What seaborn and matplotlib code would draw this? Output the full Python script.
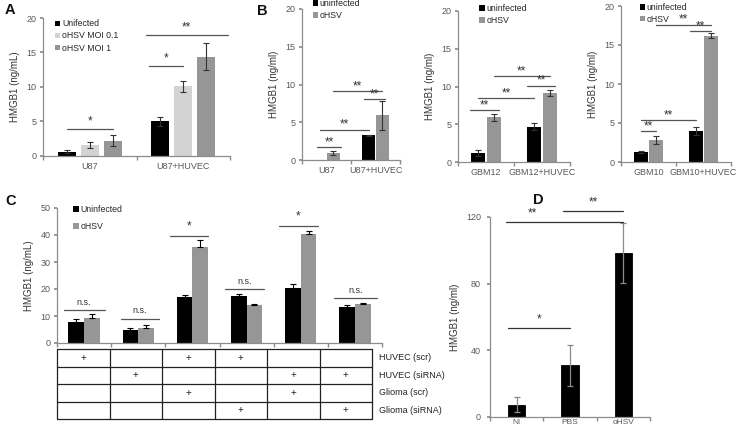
import numpy as np
import pandas as pd
import seaborn as sns
from matplotlib import pyplot as plt

W, H = 738, 428

# ---- panel A
a_groups = ["U87", "U87+HUVEC"]
a_series = ["Unifected", "oHSV MOI 0.1", "oHSV MOI 1"]
a_vals = [[0.6, 5.0], [1.6, 10.1], [2.2, 14.4]]
a_errs = [[0.2, 0.7], [0.4, 0.8], [0.8, 2.0]]
a_colors = ["#000000", "#d3d3d3", "#969696"]
# (bar from, bar to, y, text, ext left, ext right[, text position along line])
# bars flat: group*nseries+series
a_sig = [(0, 2, 3.9, "*", 0, 0), (3, 5, 17.6, "**", 0.8, 1.2), (3, 4, 13.0, "*", 0.6, 0)]

# ---- panel B
b_series = ["uninfected", "oHSV"]
b_colors = ["#000000", "#969696"]
b1_groups = ["U87", "U87+HUVEC"]
b1_vals = [[0.0, 3.25], [0.9, 5.9]]
b1_errs = [[0.0, 0.1], [0.3, 1.9]]
b1_sig = [(0, 1, 1.7, "**", 0.2, 0.6), (0, 2, 4.0, "**", 0, 0), (1, 3, 9.1, "**", 0, 0), (2, 3, 8.1, "**", 0.4, 0.2)]
b2_groups = ["GBM12", "GBM12+HUVEC"]
b2_vals = [[1.2, 4.7], [5.9, 9.2]]
b2_errs = [[0.4, 0.4], [0.5, 0.4]]
b2_sig = [(0, 1, 6.9, "**", 0.6, 0.4), (0, 2, 8.5, "**", 0, 0), (1, 3, 11.4, "**", 0, 0), (2, 3, 10.1, "**", 0.5, 0.4)]
b3_groups = ["GBM10", "GBM10+HUVEC"]
b3_vals = [[1.3, 4.0], [2.85, 16.2]]
b3_errs = [[0.1, 0.5], [0.5, 0.3]]
b3_sig = [(0, 1, 4.0, "**", 0, 0), (0, 2, 5.4, "**", 0, 0), (1, 3, 17.6, "**", 0, 0), (2, 3, 16.8, "**", 0.4, 0)]

# ---- panel C
c_groups = ["1", "2", "3", "4", "5", "6"]
c_series = ["Uninfected", "oHSV"]
c_vals = [[7.8, 4.7, 16.9, 17.3, 20.5, 13.3], [9.3, 5.6, 35.5, 14.2, 40.5, 14.4]]
c_errs = [[1.2, 0.8, 1.0, 0.9, 1.2, 0.8], [1.5, 1.2, 2.5, 0.3, 0.8, 0.3]]
c_sig = [(0, 1, 12.2, "n.s.", 0.8, 0.8), (2, 3, 9.0, "n.s.", 0.6, 0.8), (4, 5, 39.6, "*", 0.9, 0.5),
         (6, 7, 20.0, "n.s.", 0.9, 0.6), (8, 9, 43.3, "*", 0.9, 0.6), (10, 11, 16.7, "n.s.", 0.8, 0.9)]
c_rows = ["HUVEC (scr)", "HUVEC (siRNA)", "Glioma (scr)", "Glioma (siRNA)"]
c_plus = [[1, 0, 1, 1, 0, 0], [0, 1, 0, 0, 1, 1], [0, 0, 1, 0, 1, 0], [0, 0, 0, 1, 0, 1]]

# ---- panel D
d_groups = ["NI", "PBS", "oHSV"]
d_vals = [7.5, 31.0, 98.5]
d_errs = [4.5, 12.5, 18.0]
d_sig = [(0, 2, 117, "**", 0.6, 0, 0.22), (1, 2, 123.6, "**", 0.4, 0), (0, 1, 53.4, "*", 0.5, 0)]

GREY = "#595959"
SPINE = "#8c8c8c"
FONT = "Liberation Sans"

sns.set_theme(style="ticks")
plt.rcParams["font.family"] = [FONT, "DejaVu Sans"]


def px_axes(fig, left, right, top, bottom):
    return fig.add_axes([left / W, 1 - bottom / H, (right - left) / W, (bottom - top) / H])


def style_axes(ax, ylim, yticks, ylabel, labels=True):
    ax.set_ylim(*ylim)
    ax.set_yticks(yticks)
    ax.set_ylabel(ylabel, fontsize=7, color="#333333", labelpad=5)
    ax.set_xlabel("")
    for s in ["top", "right"]:
        ax.spines[s].set_visible(False)
    for s in ["left", "bottom"]:
        ax.spines[s].set_color(SPINE)
        ax.spines[s].set_linewidth(0.9)
    n = len(ax.get_xticks())
    ax.set_xlim(-0.5, n - 0.5)
    ax.set_xticks(np.arange(-0.5, n, 1.0), minor=True)
    ax.tick_params(axis="x", which="major", length=0, labelsize=6.5, labelcolor=GREY, pad=4)
    ax.tick_params(axis="x", which="minor", length=3, color=SPINE, direction="out")
    ax.tick_params(axis="y", length=2.5, color=SPINE, labelsize=6.5, labelcolor=GREY, pad=2)
    if not labels:
        ax.set_xticklabels([])


def grouped(ax, groups, series, vals, errs, colors, width, gap, one_sided=False, ecolor="#333333"):
    rows = [(g, s, vals[j][i]) for j, s in enumerate(series) for i, g in enumerate(groups)]
    df = pd.DataFrame(rows, columns=["group", "series", "value"])
    sns.barplot(data=df, x="group", y="value", hue="series", order=groups, hue_order=series,
                palette=colors, width=width, gap=gap, errorbar=None, saturation=1,
                linewidth=0, ax=ax)
    bars = {}
    for j, cont in enumerate(list(ax.containers)):
        for i, bar in enumerate(cont):
            x = bar.get_x() + bar.get_width() / 2
            bars[i * len(series) + j] = (x, bar.get_width())
            e = errs[j][i]
            if e > 0:
                yerr = [[0], [e]] if one_sided else [[e], [e]]
                ax.errorbar(x, vals[j][i], yerr=yerr, fmt="none", ecolor=ecolor,
                            elinewidth=0.8, capsize=2, capthick=0.8)
    return bars


def brackets(ax, bars, sig, fs=6.5, color="#555555", dy=0.0):
    for item in sig:
        b1, b2, y, text, el, er = item[:6]
        frac = item[6] if len(item) > 6 else 0.5
        x1 = bars[b1][0] - el * bars[b1][1]
        x2 = bars[b2][0] + er * bars[b2][1]
        ax.plot([x1, x2], [y, y], color=color, lw=0.9, clip_on=False)
        size = 8.5 if "*" in text else fs
        ax.text(x1 + frac * (x2 - x1), y + dy, text, ha="center", va="bottom", fontsize=size,
                color="#333333", clip_on=False)


def legend(ax, x, y, spacing=0.25, fs=6.3):
    ax.legend(loc="upper left", bbox_to_anchor=(x, y), frameon=False, fontsize=fs,
              handlelength=0.6, handleheight=0.6, handletextpad=0.2,
              labelspacing=spacing, borderaxespad=0, borderpad=0)


fig = plt.figure(figsize=(W / 100, H / 100), dpi=100)

# A
ax = px_axes(fig, 43, 230, 18, 156)
bars = grouped(ax, a_groups, a_series, a_vals, a_errs, a_colors, 0.74, 0.22)
style_axes(ax, (0, 20), [0, 5, 10, 15, 20], "HMGB1 (ng/mL)")
brackets(ax, bars, a_sig, dy=0.2)
legend(ax, 0.065, 0.99, spacing=0.35)

# B1..B3
for (l, r, t, b), groups, vals, errs, sig, lx, ly in [
        ((302, 400, 9, 160), b1_groups, b1_vals, b1_errs, b1_sig, 0.11, 1.065),
        ((458, 570, 11, 162), b2_groups, b2_vals, b2_errs, b2_sig, 0.19, 1.045),
        ((621, 731, 6, 162), b3_groups, b3_vals, b3_errs, b3_sig, 0.17, 1.02)]:
    ax = px_axes(fig, l, r, t, b)
    bars = grouped(ax, groups, b_series, vals, errs, b_colors, 0.56, 0.1)
    style_axes(ax, (0, 20), [0, 5, 10, 15, 20], "HMGB1 (ng/ml)")
    brackets(ax, bars, sig, dy=-0.15)
    legend(ax, lx, ly, spacing=0.3)

# C
ax = px_axes(fig, 57, 382, 208, 343)
bars = grouped(ax, c_groups, c_series, c_vals, c_errs, b_colors, 0.58, 0.0,
               one_sided=True, ecolor="#000000")
style_axes(ax, (0, 50), [0, 10, 20, 30, 40, 50], "HMGB1 (ng/mL)", labels=False)
brackets(ax, bars, c_sig, dy=1.2)
legend(ax, 0.05, 1.02, spacing=0.9)

# C table
tb = px_axes(fig, 57, 372, 349, 419)
tb.set_xlim(0, len(c_groups))
tb.set_ylim(len(c_rows), 0)
tb.axis("off")
for k in range(len(c_groups) + 1):
    tb.plot([k, k], [0, len(c_rows)], color="#222222", lw=0.9, clip_on=False)
for k in range(len(c_rows) + 1):
    tb.plot([0, len(c_groups)], [k, k], color="#222222", lw=0.9, clip_on=False)
for r, row in enumerate(c_plus):
    for c, v in enumerate(row):
        if v:
            tb.text(c + 0.5, r + 0.5, "+", ha="center", va="center", fontsize=7, color="#222222")
    tb.text(len(c_groups) + 0.13, r + 0.5, c_rows[r], ha="left", va="center", fontsize=6.5,
            color="#222222", clip_on=False)

# D
ax = px_axes(fig, 490, 650, 217, 417)
df_d = pd.DataFrame({"group": d_groups, "value": d_vals})
sns.barplot(data=df_d, x="group", y="value", color="#000000", width=0.33, saturation=1,
            errorbar=None, edgecolor="#000000", linewidth=0.6, ax=ax)
bars_d = {}
for i, bar in enumerate(list(ax.containers)[0]):
    x = bar.get_x() + bar.get_width() / 2
    bars_d[i] = (x, bar.get_width())
    ax.errorbar(x, d_vals[i], yerr=d_errs[i], fmt="none", ecolor="#8a8a8a",
                elinewidth=0.9, capsize=2, capthick=0.9)
style_axes(ax, (0, 120), [0, 40, 80, 120], "HMGB1 (ng/ml)")
ax.yaxis.labelpad = 4
ax.tick_params(axis="y", pad=4)
ax.tick_params(axis="x", which="major", pad=1.5, labelsize=6)
brackets(ax, bars_d, d_sig, color="#333333", dy=1.5)

# panel letters
for letter, x, y in [("A", 5, 10), ("B", 257, 11), ("C", 5, 201), ("D", 533, 200)]:
    fig.text(x / W, 1 - y / H, letter, fontsize=10.5, fontweight="bold", ha="left",
             va="center", color="#111111")

fig.savefig("out.png", dpi=100)
